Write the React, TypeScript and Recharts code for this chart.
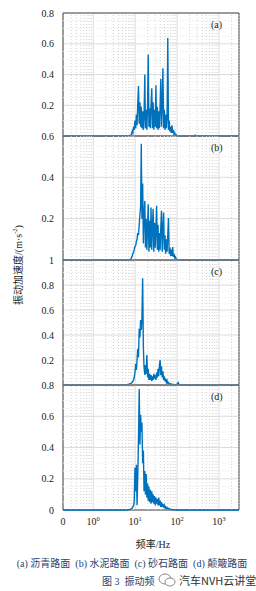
import React from 'react';
import { LineChart, Line, XAxis, YAxis, CartesianGrid, ReferenceLine, ReferenceArea } from 'recharts';

// shared frequency grid of the spectra (Hz)
const freqs = [
  6.0, 6.2, 6.5, 6.7, 7.0, 7.3, 7.6, 7.9, 8.2, 8.5, 8.8, 9.2, 9.5, 9.9, 10.3, 10.7, 11.1, 11.5, 12.0, 12.5,
  13.0, 13.5, 14.0, 14.5, 15.1, 15.7, 16.3, 17.0, 17.6, 18.3, 19.0, 19.8, 20.5, 21.3, 22.2, 23.0, 23.9, 24.9,
  25.8, 26.8, 27.9, 29.0, 30.1, 31.3, 32.5, 33.8, 35.1, 36.5, 37.9, 39.4, 40.9, 42.5, 44.2, 45.9, 47.7, 49.6,
  51.5, 53.5, 55.6, 57.8, 60.0, 62.4, 64.8, 67.3, 70.0, 72.7, 75.5, 78.5, 81.5, 84.7, 88.0, 91.5, 95.0, 98.7,
  102.6, 106.6, 110.7,
];

// (a) 沥青路面
const ampA = [
  0, 0.001, 0.001, 0.002, 0.002, 0.003, 0.004, 0.006, 0.012, 0.03, 0.02, 0.06, 0.04, 0.1, 0.05, 0.14, 0.07, 0.2, 0.325, 0.08,
  0.22, 0.06, 0.19, 0.05, 0.16, 0.04, 0.13, 0.4, 0.05, 0.17, 0.04, 0.2, 0.53, 0.06, 0.18, 0.05, 0.2, 0.31,
  0.05, 0.22, 0.04, 0.17, 0.06, 0.33, 0.05, 0.19, 0.04, 0.16, 0.05, 0.2, 0.37, 0.06, 0.22, 0.44, 0.05, 0.17,
  0.04, 0.14, 0.05, 0.12, 0.637, 0.04, 0.1, 0.03, 0.06, 0.02, 0.07, 0.02, 0.04, 0.01, 0.02, 0.005, 0.008, 0.002,
  0.001, 0.001, 0,
];

// (b) 水泥路面
const ampB = [
  0, 0, 0.001, 0.001, 0.001, 0.002, 0.003, 0.006, 0.01, 0.02, 0.03, 0.04, 0.05, 0.065, 0.07, 0.09, 0.1, 0.13, 0.12, 0.17,
  0.22, 0.26, 0.563, 0.2, 0.37, 0.08, 0.22, 0.286, 0.06, 0.2, 0.05, 0.17, 0.27, 0.04, 0.19, 0.06, 0.254, 0.05,
  0.16, 0.247, 0.04, 0.18, 0.06, 0.15, 0.262, 0.05, 0.17, 0.04, 0.13, 0.05, 0.16, 0.238, 0.04, 0.15, 0.23, 0.05,
  0.12, 0.03, 0.1, 0.04, 0.12, 0.203, 0.03, 0.06, 0.02, 0.05, 0.02, 0.063, 0.015, 0.03, 0.01, 0.015, 0.005, 0.003,
  0.001, 0, 0,
];

// (c) 砂石路面
const ampC = [
  0.002, 0.003, 0.004, 0.005, 0.006, 0.008, 0.01, 0.013, 0.017, 0.022, 0.03, 0.04, 0.06, 0.1, 0.17, 0.12, 0.2, 0.29, 0.22, 0.45,
  0.38, 0.52, 0.44, 0.53, 0.853, 0.3, 0.14, 0.08, 0.16, 0.09, 0.24, 0.06, 0.13, 0.04, 0.09, 0.04, 0.08, 0.03,
  0.07, 0.04, 0.09, 0.05, 0.08, 0.04, 0.1, 0.06, 0.13, 0.07, 0.16, 0.2, 0.08, 0.15, 0.06, 0.11, 0.04, 0.07,
  0.03, 0.05, 0.02, 0.035, 0.015, 0.02, 0.01, 0.012, 0.006, 0.008, 0.005, 0.005, 0.004, 0.004, 0.003, 0.003, 0.002, 0.002,
  0.015, 0.02, 0,
];

// (d) 颠簸路面
const ampD = [
  0, 0.001, 0.001, 0.002, 0.002, 0.003, 0.004, 0.006, 0.008, 0.012, 0.02, 0.03, 0.05, 0.27, 0.12, 0.29, 0.03, 0.2, 0.45, 0.774,
  0.42, 0.61, 0.5, 0.56, 0.3, 0.38, 0.12, 0.25, 0.1, 0.23, 0.08, 0.17, 0.06, 0.15, 0.05, 0.13, 0.04, 0.12,
  0.05, 0.1, 0.04, 0.09, 0.03, 0.08, 0.04, 0.07, 0.03, 0.08, 0.03, 0.06, 0.02, 0.05, 0.02, 0.04, 0.015, 0.03,
  0.012, 0.02, 0.01, 0.015, 0.008, 0.01, 0.006, 0.007, 0.004, 0.004, 0.003, 0.002, 0.002, 0.001, 0.001, 0.001, 0, 0,
  0, 0, 0,
];

// high-frequency tail (flat, one small blip in (a))
const tailFreqs = [130, 250, 270, 290, 3000];
const tailA = [0, 0, 0.006, 0, 0];
const tailZero = [0, 0, 0, 0, 0];

const X_MIN = 0.19;
const X_MAX = 3000;
const xTicks = [X_MIN, 1, 10, 100, 1000];
const xTickBase = ['0', '10', '10', '10', '10'];
const xTickExp = ['', '0', '1', '2', '3'];
const xMinor = [
  0.3, 0.4, 0.5, 0.6, 0.7, 0.8, 0.9, 2, 3, 4, 5, 6, 7, 8, 9, 20, 30, 40, 50, 60, 70, 80, 90,
  200, 300, 400, 500, 600, 700, 800, 900, 2000, 3000,
];

const BLUE = '#0072BD';
const FONT = '"Liberation Serif", "Times New Roman", "Noto Sans CJK SC", serif';
const TEXT = '#222';

const buildRows = (amp: number[], tail: number[]) => [
  { f: X_MIN, v: 0 },
  ...freqs.map((f, i) => ({ f, v: amp[i] })),
  ...tailFreqs.map((f, i) => ({ f, v: tail[i] })),
];

const XTick = ({ x, y, payload }: { x?: number; y?: number; payload?: { value: number } }) => {
  const i = xTicks.indexOf(payload!.value);
  return (
    <text x={x} y={(y || 0) + 13} textAnchor="middle" fontSize={10} fontFamily={FONT} fill={TEXT}>
      {xTickBase[i]}
      {xTickExp[i] && (
        <tspan dy={-4} fontSize={6.5}>
          {xTickExp[i]}
        </tspan>
      )}
    </text>
  );
};

type PanelProps = {
  amp: number[];
  tail: number[];
  yMax: number;
  yTicks: number[];
  top: number;
  plotHeight: number;
  showX?: boolean;
  tag: string;
};

function Panel({ amp, tail, yMax, yTicks, top, plotHeight, showX, tag }: PanelProps) {
  const rows = buildRows(amp, tail);
  const yMinor: number[] = [];
  for (let k = 1; k * 0.05 < yMax - 0.001; k++) if (k % 4 !== 0) yMinor.push(+(k * 0.05).toFixed(2));
  const xAxisH = showX ? 30 : 0;
  const height = 8 + plotHeight + (showX ? xAxisH : 8);
  return (
    <div style={{ position: 'absolute', left: 0, top: top - 8, width: 256, height }}>
      <LineChart
        width={256}
        height={height}
        data={rows}
        margin={{ top: 8, right: 17, bottom: showX ? 0 : 8, left: 0 }}
      >
        <CartesianGrid stroke="#dcdcdc" strokeWidth={1} />
        {xMinor.map((v) => (
          <ReferenceLine key={`xm-${v}`} x={v} stroke="#d2d2d2" strokeDasharray="1 2" />
        ))}
        {yMinor.map((v) => (
          <ReferenceLine key={`ym-${v}`} y={v} stroke="#e6e6e6" strokeDasharray="1 2" />
        ))}
        <XAxis
          dataKey="f"
          type="number"
          scale="log"
          domain={[X_MIN, X_MAX]}
          allowDataOverflow
          ticks={xTicks}
          hide={!showX}
          height={xAxisH}
          axisLine={false}
          tickLine={false}
          tickSize={0}
          tick={<XTick />}
          interval={0}
        />
        <YAxis
          type="number"
          domain={[0, yMax]}
          ticks={yTicks}
          width={63}
          axisLine={false}
          tickLine={false}
          tickSize={0}
          tickMargin={9}
          interval={0}
          tick={{ fontSize: 10, fontFamily: FONT, fill: TEXT }}
          tickFormatter={(v: number) => (v === 0 ? '0' : v === 1 ? '1' : v.toFixed(1))}
        />
        <ReferenceArea
          x1={X_MIN}
          x2={X_MAX}
          y1={0}
          y2={yMax}
          fill="none"
          stroke="#4a4a4a"
          strokeWidth={1}
          ifOverflow="visible"
        />
        <Line
          type="linear"
          dataKey="v"
          stroke={BLUE}
          strokeWidth={1.4}
          strokeLinejoin="miter"
          dot={false}
          activeDot={false}
          isAnimationActive={false}
        />
      </LineChart>
      <div
        style={{
          position: 'absolute',
          left: 211,
          top: 8 + 6,
          fontSize: 10,
          fontFamily: FONT,
          color: TEXT,
        }}
      >
        {tag}
      </div>
    </div>
  );
}

export default function App() {
  return (
    <div
      style={{
        position: 'absolute',
        left: 0,
        top: 0,
        width: 256,
        height: 591,
        background: '#fff',
        overflow: 'hidden',
      }}
    >
      <Panel amp={ampA} tail={tailA} yMax={0.8} yTicks={[0.2, 0.4, 0.6, 0.8]} top={13} plotHeight={123} tag="(a)" />
      <Panel amp={ampB} tail={tailZero} yMax={0.6} yTicks={[0.2, 0.4, 0.6]} top={136} plotHeight={124} tag="(b)" />
      <Panel amp={ampC} tail={tailZero} yMax={1} yTicks={[0.2, 0.4, 0.6, 0.8, 1]} top={260} plotHeight={125} tag="(c)" />
      <Panel
        amp={ampD}
        tail={tailZero}
        yMax={0.8}
        yTicks={[0, 0.2, 0.4, 0.6, 0.8]}
        top={385}
        plotHeight={125}
        showX
        tag="(d)"
      />

      <div
        style={{
          position: 'absolute',
          left: 17,
          top: 265,
          transform: 'translate(-50%, -50%) rotate(-90deg)',
          whiteSpace: 'nowrap',
          fontSize: 10,
          fontFamily: FONT,
          color: TEXT,
        }}
      >
        振动加速度/(m·s<sup style={{ fontSize: 6.5 }}>-2</sup>)
      </div>

      <div
        style={{
          position: 'absolute',
          left: 153,
          top: 543,
          transform: 'translate(-50%, -50%)',
          whiteSpace: 'nowrap',
          fontSize: 10,
          fontFamily: FONT,
          color: TEXT,
        }}
      >
        频率/Hz
      </div>

      <div
        style={{
          position: 'absolute',
          left: 132,
          top: 562,
          transform: 'translate(-50%, -50%)',
          whiteSpace: 'nowrap',
          fontSize: 10,
          fontFamily: FONT,
          color: '#2a4470',
        }}
      >
        (a) 沥青路面&nbsp; (b) 水泥路面&nbsp; (c) 砂石路面&nbsp; (d) 颠簸路面
      </div>

      <div
        style={{
          position: 'absolute',
          left: 102,
          top: 580,
          transform: 'translateY(-50%)',
          whiteSpace: 'nowrap',
          fontSize: 10,
          fontFamily: FONT,
          color: '#2a4470',
        }}
      >
        图 3&nbsp; 振动频
      </div>
      <svg style={{ position: 'absolute', left: 158, top: 572 }} width={18} height={16}>
        <ellipse cx={7} cy={7} rx={6} ry={5} fill="#fff" stroke="#888" strokeWidth={1} />
        <ellipse cx={12} cy={10} rx={5} ry={4} fill="#fff" stroke="#888" strokeWidth={1} />
      </svg>
      <div
        style={{
          position: 'absolute',
          left: 179,
          top: 580,
          transform: 'translateY(-50%)',
          whiteSpace: 'nowrap',
          fontSize: 11,
          fontFamily: '"Noto Sans CJK SC", "Noto Sans", sans-serif',
          color: '#333',
        }}
      >
        汽车NVH云讲堂
      </div>
    </div>
  );
}
